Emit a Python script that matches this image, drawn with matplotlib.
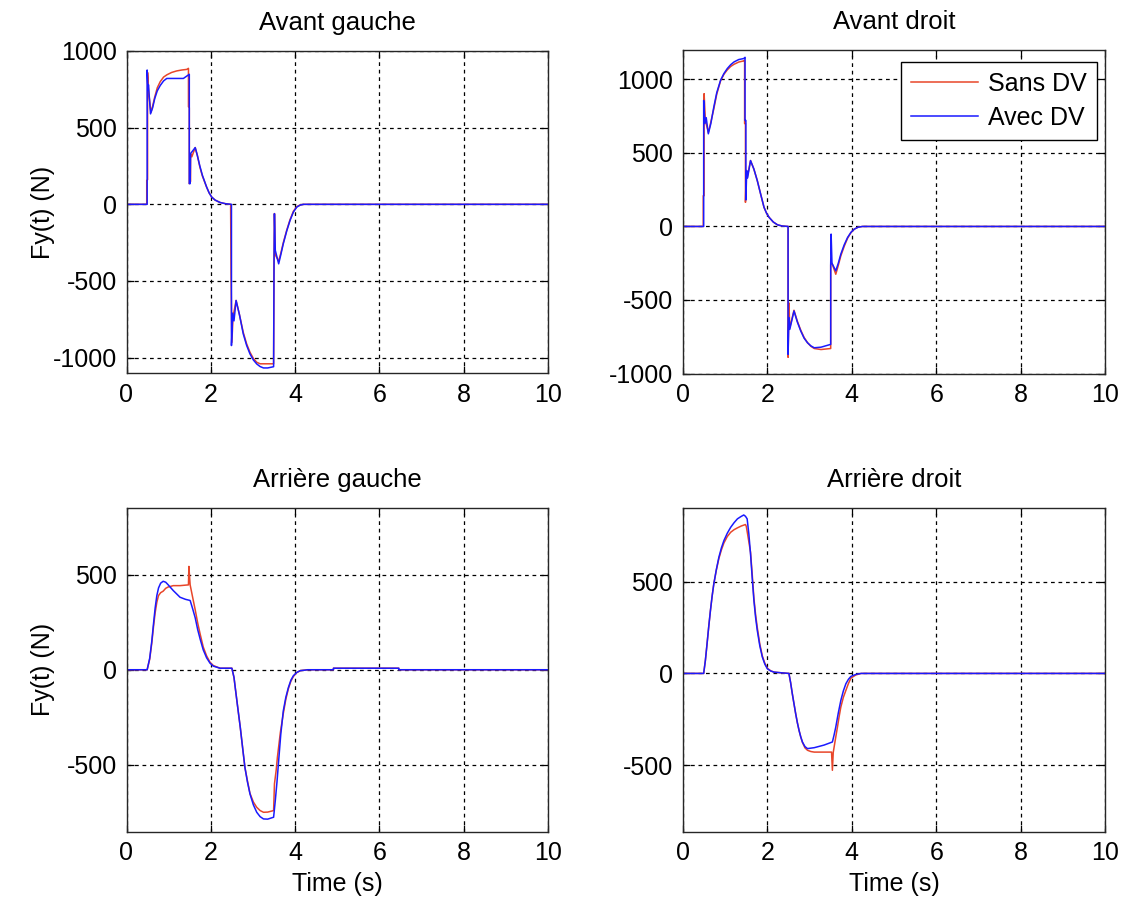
import matplotlib
matplotlib.use('Agg')
import matplotlib.pyplot as plt

plt.rcParams['font.family'] = ['Liberation Sans', 'DejaVu Sans']
plt.rcParams['font.size'] = 18
plt.rcParams['axes.unicode_minus'] = False

# --- data (time in s, Fy in N) ---
titles = ['Avant gauche', 'Avant droit', 'Arrière gauche', 'Arrière droit']
labels = ['Sans DV', 'Avec DV']
xticks = [0, 2, 4, 6, 8, 10]

# Avant gauche
t_ag_sans = [0, 0.48, 0.48, 0.50, 0.50, 0.53, 0.58, 0.62, 0.67, 0.73, 0.80, 0.88, 0.96, 1.07,
             1.19, 1.31, 1.43, 1.47, 1.47, 1.49, 1.49, 1.52, 1.52, 1.55, 1.63, 1.68, 1.74,
             1.80, 1.90, 1.96, 2.02, 2.10, 2.22, 2.35, 2.47, 2.48, 2.50, 2.53, 2.55, 2.60,
             2.68, 2.77, 2.85, 2.93, 3.01, 3.09, 3.17, 3.25, 3.49, 3.50, 3.51, 3.53, 3.61,
             3.66, 3.72, 3.80, 3.88, 3.96, 4.04, 4.12, 4.20, 10]
fy_ag_sans = [0, 0, 157, 160, 860, 720, 600, 640, 700, 760, 800, 830, 845, 860,
              870, 876, 880, 887, 636, 630, 135, 150, 330, 310, 370, 320, 244,
              185, 113, 75, 48, 28, 12, 4, 0, -453, -900, -720, -700, -627,
              -720, -835, -910, -965, -1005, -1030, -1040, -1040, -1040, -380, -60, -330, -370,
              -320, -250, -170, -100, -45, -15, -4, 0, 0]
t_ag_avec = [0, 0.49, 0.49, 0.51, 0.52, 0.57, 0.62, 0.67, 0.73, 0.80, 0.88, 0.955, 1.35, 1.49,
             1.49, 1.51, 1.52, 1.63, 1.68, 1.74, 1.80, 1.90, 1.96, 2.02, 2.10, 2.22, 2.35,
             2.49, 2.49, 2.52, 2.55, 2.60, 2.68, 2.77, 2.85, 2.93, 3.01, 3.09, 3.17, 3.25,
             3.35, 3.49, 3.50, 3.51, 3.53, 3.61, 3.66, 3.72, 3.80, 3.88, 3.96, 4.04, 4.12,
             4.20, 10]
fy_ag_avec = [0, 0, 876, 745, 780, 590, 630, 690, 740, 775, 805, 821, 821, 848,
              135, 135, 331, 370, 320, 250, 190, 113, 75, 48, 28, 12, 4,
              0, -921, -710, -760, -627, -720, -845, -920, -976, -1015, -1041, -1058, -1067,
              -1067, -1059, -388, -61, -300, -388, -330, -257, -175, -105, -50, -18, -5,
              0, 0]

# Avant droit
t_ad_sans = [0, 0.48, 0.48, 0.50, 0.50, 0.53, 0.60, 0.66, 0.73, 0.80, 0.89, 0.97, 1.05, 1.13,
             1.21, 1.32, 1.44, 1.46, 1.46, 1.48, 1.48, 1.50, 1.52, 1.60, 1.68, 1.76, 1.84,
             1.92, 1.98, 2.04, 2.14, 2.24, 2.35, 2.49, 2.49, 2.51, 2.53, 2.63, 2.71, 2.79,
             2.87, 2.95, 3.03, 3.11, 3.27, 3.50, 3.50, 3.53, 3.62, 3.68, 3.74, 3.82, 3.90,
             3.98, 4.06, 4.15, 4.25, 10]
fy_ad_sans = [0, 0, 209, 209, 903, 720, 640, 710, 800, 900, 990, 1035, 1065, 1088,
              1103, 1118, 1126, 1130, 700, 700, 164, 380, 330, 448, 390, 312, 220,
              130, 90, 62, 30, 11, 3, 0, -890, -520, -690, -570, -645, -705,
              -755, -790, -815, -830, -837, -830, -260, -250, -325, -265, -200, -135, -80,
              -42, -18, -5, 0, 0]
t_ad_avec = [0, 0.49, 0.49, 0.52, 0.55, 0.60, 0.66, 0.73, 0.80, 0.89, 0.97, 1.05, 1.13, 1.21,
             1.32, 1.44, 1.47, 1.47, 1.49, 1.49, 1.51, 1.53, 1.60, 1.68, 1.76, 1.84, 1.92,
             1.98, 2.04, 2.14, 2.24, 2.35, 2.49, 2.49, 2.51, 2.53, 2.63, 2.71, 2.79, 2.87,
             2.95, 3.03, 3.11, 3.27, 3.50, 3.50, 3.51, 3.53, 3.62, 3.68, 3.74, 3.82, 3.90,
             3.98, 4.06, 4.15, 4.25, 10]
fy_ad_avec = [0, 0, 857, 700, 740, 630, 700, 812, 910, 994, 1040, 1074, 1100, 1119,
              1135, 1142, 1150, 721, 721, 180, 380, 330, 448, 390, 312, 220, 130,
              90, 62, 30, 11, 3, 0, -870, -620, -700, -575, -650, -711, -760,
              -791, -812, -825, -821, -802, -256, -52, -250, -302, -250, -188, -125, -75,
              -40, -18, -5, 0, 0]

# Arrière gauche
t_rg_sans = [0, 0.49, 0.55, 0.60, 0.64, 0.68, 0.72, 0.76, 0.81, 0.87, 0.93, 0.99, 1.11, 1.27,
             1.47, 1.48, 1.49, 1.51, 1.57, 1.63, 1.69, 1.75, 1.82, 1.90, 1.98, 2.06, 2.22,
             2.50, 2.55, 2.58, 2.64, 2.70, 2.76, 2.81, 2.87, 2.93, 3.01, 3.09, 3.17, 3.25,
             3.35, 3.49, 3.51, 3.55, 3.58, 3.65, 3.72, 3.78, 3.84, 3.90, 3.96, 4.04, 4.12,
             4.30, 4.91, 4.91, 6.46, 6.46, 10]
fy_rg_sans = [0, 0, 55, 140, 225, 300, 355, 390, 405, 413, 428, 435, 442, 442,
              446, 543, 510, 446, 380, 315, 245, 185, 120, 73, 40, 22, 8,
              8, -40, -94, -200, -304, -420, -514, -585, -650, -695, -723, -740, -749,
              -748, -740, -600, -530, -460, -330, -230, -155, -100, -60, -35, -15, -5,
              0, 0, 8, 8, 0, 0]
t_rg_avec = [0, 0.49, 0.55, 0.60, 0.64, 0.68, 0.72, 0.76, 0.81, 0.87, 0.93, 0.99, 1.11, 1.27,
             1.40, 1.51, 1.57, 1.63, 1.69, 1.75, 1.82, 1.90, 1.98, 2.06, 2.22, 2.50, 2.55,
             2.58, 2.64, 2.70, 2.76, 2.81, 2.87, 2.93, 3.01, 3.09, 3.17, 3.25, 3.35, 3.49,
             3.53, 3.57, 3.61, 3.66, 3.72, 3.78, 3.84, 3.90, 3.96, 4.04, 4.12, 4.30, 4.91,
             4.91, 6.46, 6.46, 10]
fy_rg_avec = [0, 0, 60, 150, 240, 325, 390, 430, 455, 465, 460, 446, 416, 381,
              370, 364, 320, 273, 210, 159, 105, 63, 35, 19, 8, 8, -40,
              -94, -200, -304, -420, -514, -590, -653, -710, -749, -772, -784, -785, -775,
              -688, -590, -478, -340, -216, -145, -94, -55, -31, -14, -5, 0, 0,
              8, 8, 0, 0]

# Arrière droit
t_rd_sans = [0, 0.49, 0.53, 0.57, 0.61, 0.65, 0.69, 0.73, 0.79, 0.85, 0.91, 0.97, 1.05, 1.13,
             1.21, 1.29, 1.38, 1.48, 1.50, 1.54, 1.60, 1.64, 1.68, 1.72, 1.76, 1.82, 1.88,
             1.94, 2.00, 2.08, 2.16, 2.35, 2.51, 2.55, 2.59, 2.63, 2.67, 2.71, 2.75, 2.79,
             2.83, 2.89, 2.95, 3.03, 3.11, 3.52, 3.54, 3.56, 3.61, 3.66, 3.70, 3.74, 3.80,
             3.86, 3.92, 3.98, 4.10, 4.22, 10]
fy_rd_sans = [0, 0, 70, 161, 255, 342, 420, 487, 562, 625, 672, 710, 745, 768,
              782, 792, 802, 810, 800, 745, 660, 540, 410, 320, 250, 160, 95,
              55, 28, 14, 7, 3, 0, -50, -110, -165, -219, -268, -310, -345,
              -375, -405, -418, -425, -428, -428, -527, -430, -360, -292, -235, -183, -130,
              -92, -55, -25, -8, 0, 0]
t_rd_avec = [0, 0.49, 0.53, 0.57, 0.61, 0.65, 0.69, 0.73, 0.79, 0.85, 0.91, 0.97, 1.05, 1.13,
             1.21, 1.29, 1.37, 1.44, 1.48, 1.52, 1.56, 1.60, 1.64, 1.68, 1.72, 1.76, 1.82,
             1.88, 1.94, 2.00, 2.08, 2.16, 2.35, 2.51, 2.55, 2.59, 2.63, 2.67, 2.71, 2.75,
             2.79, 2.83, 2.89, 2.95, 3.11, 3.34, 3.54, 3.58, 3.62, 3.68, 3.74, 3.80, 3.86,
             3.92, 3.98, 4.10, 4.22, 10]
fy_rd_avec = [0, 0, 70, 161, 255, 342, 420, 487, 565, 632, 683, 723, 763, 795,
              820, 841, 853, 862, 855, 841, 760, 651, 520, 397, 305, 234, 150,
              89, 50, 25, 13, 7, 3, 0, -50, -110, -165, -219, -268, -310,
              -345, -373, -398, -409, -404, -390, -373, -335, -292, -215, -147, -95, -56,
              -32, -16, -5, 0, 0]

panels = [
    (t_ag_sans, fy_ag_sans, t_ag_avec, fy_ag_avec, (-1100, 1000), [-1000, -500, 0, 500, 1000]),
    (t_ad_sans, fy_ad_sans, t_ad_avec, fy_ad_avec, (-1000, 1200), [-1000, -500, 0, 500, 1000]),
    (t_rg_sans, fy_rg_sans, t_rg_avec, fy_rg_avec, (-850, 850), [-500, 0, 500]),
    (t_rd_sans, fy_rd_sans, t_rd_avec, fy_rd_avec, (-860, 900), [-500, 0, 500]),
]

W, H = 1127, 901
# axes boxes in pixels: left, top, right, bottom
boxes = [(126.5, 51, 548, 373), (683, 50, 1105, 373.5),
         (126.5, 508, 548, 831.5), (683, 508, 1105, 831.5)]

fig = plt.figure(figsize=(W / 100, H / 100), dpi=100)

for i, (ts, ys, ta, ya, ylim, yticks) in enumerate(panels):
    l, t, r, b = boxes[i]
    ax = fig.add_axes([l / W, 1 - b / H, (r - l) / W, (b - t) / H])
    ax.plot(ts, ys, color='#e8462a', lw=1.1, label=labels[0])
    ax.plot(ta, ya, color='#1a1aff', lw=1.1, label=labels[1])
    ax.set_xlim(0, 10)
    ax.set_ylim(*ylim)
    ax.set_xticks(xticks)
    ax.set_yticks(yticks)
    ax.grid(True, color='black', linestyle=(0, (3, 3)), linewidth=0.9)
    ax.set_axisbelow(True)
    ax.tick_params(direction='in', length=5, width=0.9, top=True, right=True, pad=7,
                   labelsize=18)
    for s in ax.spines.values():
        s.set_linewidth(1.0)
        s.set_color('#262626')
    ax.set_title(titles[i], fontsize=18.5, pad=15)
    if i in (0, 2):
        ax.set_ylabel('Fy(t) (N)', fontsize=18)
        ax.yaxis.set_label_coords(-0.17, 0.5)
    if i in (2, 3):
        ax.set_xlabel('Time (s)', fontsize=18)
        ax.xaxis.set_label_coords(0.5, -0.125)
    if i == 1:
        leg = ax.legend(loc='upper right', bbox_to_anchor=(1 - 8 / 422, 1 - 12 / 323),
                        borderaxespad=0, fancybox=False, edgecolor='black', framealpha=1,
                        fontsize=18, handlelength=2.7, handletextpad=0.4,
                        labelspacing=0.4, borderpad=0.4)
        leg.get_frame().set_linewidth(1.0)

fig.savefig('out.png', dpi=100)
